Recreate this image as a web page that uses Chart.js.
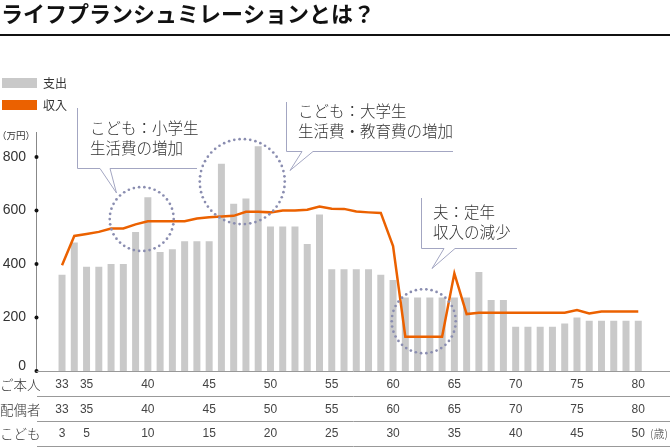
<!DOCTYPE html>
<html><head><meta charset="utf-8">
<script src="https://cdn.jsdelivr.net/npm/chart.js@4/dist/chart.umd.min.js"></script>
<style>html,body{margin:0;padding:0;background:#fff}#wrap{width:670px;height:447px;position:relative}</style>
</head><body><div id="wrap"><canvas id="c" width="670" height="447"></canvas></div>
<script>
const ages = [33,34,35,36,37,38,39,40,41,42,43,44,45,46,47,48,49,50,51,52,53,54,55,56,57,58,59,60,61,62,63,64,65,66,67,68,69,70,71,72,73,74,75,76,77,78,79,80];
const spending = [360,480,390,390,400,400,520,650,445,455,485,485,485,775,625,645,840,540,540,540,475,585,380,380,380,380,360,340,275,275,275,275,275,275,370,265,265,165,165,165,165,178,200,188,188,188,188,188];
const income = [395,505,512,520,533,533,548,560,560,560,560,570,575,578,580,595,595,593,600,600,603,615,607,606,596,593,591,467,128,128,128,128,365,213,218,218,218,218,218,218,218,218,228,215,222,222,222,222];
const yTicks = [0,200,400,600,800];
const selfTickAges = [33,35,40,45,50,55,60,65,70,75,80];
const selfTickLabels = ['33','35','40','45','50','55','60','65','70','75','80'];
const spouseTickLabels = ['33','35','40','45','50','55','60','65','70','75','80'];
const childTickLabels = ['3','5','10','15','20','25','30','35','40','45','50'];
const rowNames = ['ご本人','配偶者','こども'];
const legendNames = ['支出','収入'];
const titleText = 'ライフプランシュミレーションとは？';
const callouts = [
  {lines:['こども：小学生','生活費の増加']},
  {lines:['こども：大学生','生活費・教育費の増加']},
  {lines:['夫：定年','収入の減少']}
];
// circle anchors in data units: [age, value, radius px]
const circles = [[39.5,568,32],[47.7,708,42.5],[62.5,186,32]];

const JP = '"Noto Sans CJK JP","Noto Sans",sans-serif';
const NUM = '"Liberation Sans Narrow","Liberation Sans",Arial,sans-serif';
const GRAY = '#c9c9c9', ORANGE = '#eb6100', CALL = '#a3a6c2', DOT = '#8a8db0', TXT = '#333';

function xAt(chart, age){
  const s = chart.scales.x;
  const p0 = s.getPixelForValue(0), p1 = s.getPixelForValue(ages.length-1);
  return p0 + (age-ages[0])*(p1-p0)/(ages.length-1);
}

const deco = {
  id:'deco',
  afterDatasetsDraw(chart){
    const ctx = chart.ctx, y = chart.scales.y;
    ctx.save();
    ctx.fillStyle = DOT;
    circles.forEach(([a,v,r])=>{
      const cx = xAt(chart,a), cy = y.getPixelForValue(v);
      const n = Math.round(2*Math.PI*r/5.3);
      for(let i=0;i<n;i++){
        const t = i/n*2*Math.PI;
        ctx.beginPath(); ctx.arc(cx+r*Math.cos(t), cy+r*Math.sin(t), 1.35, 0, 2*Math.PI); ctx.fill();
      }
    });
    ctx.restore();
  },
  afterDraw(chart){
    const ctx = chart.ctx, ys = chart.scales.y;
    ctx.save();
    // title
    ctx.fillStyle = '#111';
    ctx.font = 'bold 22px '+JP;
    ctx.textBaseline = 'middle'; ctx.textAlign = 'left';
    ctx.fillText(titleText, 1, 14);
    ctx.fillRect(0, 34, 670, 2);
    // legend
    ctx.fillStyle = GRAY; ctx.fillRect(2, 78, 35, 10);
    ctx.fillStyle = ORANGE; ctx.fillRect(2, 100, 35, 10);
    ctx.fillStyle = TXT; ctx.font = '12px '+JP;
    ctx.fillText(legendNames[0], 43, 83.5);
    ctx.fillText(legendNames[1], 43, 105.5);
    // y axis
    const axX = 36.5, y0 = ys.getPixelForValue(0);
    ctx.strokeStyle = '#888'; ctx.lineWidth = 1;
    ctx.beginPath(); ctx.moveTo(axX, 132); ctx.lineTo(axX, Math.round(y0)+0.5); ctx.stroke();
    ctx.font = '9.5px '+JP; ctx.fillStyle = TXT; ctx.textAlign='left';
    ctx.fillText('（万円）', -3, 135);
    ctx.font = '14px '+NUM; ctx.textAlign = 'right';
    yTicks.forEach(v=>{
      const py = ys.getPixelForValue(v);
      ctx.fillStyle = '#111';
      ctx.beginPath(); ctx.arc(axX, py, 2, 0, 2*Math.PI); ctx.fill();
      ctx.fillStyle = TXT;
      ctx.fillText(String(v), 26, v===0 ? py-5 : py);
    });
    // x axis & table lines
    ctx.strokeStyle = '#999';
    [Math.round(y0)+0.5, 396.5, 421.5, 446.5].forEach((ly,i)=>{
      ctx.beginPath(); ctx.moveTo(i===0?axX:37, ly); ctx.lineTo(670, ly); ctx.stroke();
    });
    // row labels
    ctx.font = '300 13.5px '+JP; ctx.textAlign='left'; ctx.fillStyle = TXT;
    const rowY = [385, 409.5, 434];
    rowNames.forEach((n,i)=>ctx.fillText(n, 0, rowY[i]));
    ctx.font = '12px '+NUM; ctx.textAlign='center'; ctx.fillStyle = '#444';
    const rows = [selfTickLabels, spouseTickLabels, childTickLabels];
    rows.forEach((lab,ri)=>{
      lab.forEach((t,k)=>{
        ctx.fillText(t, xAt(chart, selfTickAges[k]), rowY[ri]);
      });
    });
    ctx.font = '300 11px '+JP; ctx.textAlign='left';
    ctx.fillText('(歳)', 650, rowY[2]);
    // callouts
    ctx.strokeStyle = CALL; ctx.lineWidth = 1;
    const boxes = [
      {x:77.5, top:108, bottom:168.5, right:197, b1:100, b2:110, tx:116.5, ty:193, textX:90, textY:[128,148]},
      {x:286.5, top:102, bottom:151.5, right:453, b1:302, b2:313, tx:290, ty:170.5, textX:298, textY:[111,131]},
      {x:421.5, top:198, bottom:248.5, right:517, b1:444, b2:455, tx:432, ty:268.5, textX:433, textY:[212,232]}
    ];
    boxes.forEach((b,i)=>{
      ctx.beginPath();
      ctx.moveTo(b.x, b.top); ctx.lineTo(b.x, b.bottom); ctx.lineTo(b.b1, b.bottom);
      ctx.lineTo(b.tx, b.ty); ctx.lineTo(b.b2, b.bottom); ctx.lineTo(b.right, b.bottom);
      ctx.stroke();
      ctx.fillStyle = TXT; ctx.font = '300 15.5px '+JP; ctx.textAlign='left';
      callouts[i].lines.forEach((l,k)=>ctx.fillText(l, b.textX, b.textY[k]));
    });
    ctx.restore();
  }
};

new Chart(document.getElementById('c'), {
  data: {
    labels: ages.map(String),
    datasets: [
      {type:'line', data: income, borderColor: ORANGE, borderWidth: 2.5, pointRadius: 0, tension: 0, order: 0, borderJoinStyle:'miter'},
      {type:'bar', data: spending, backgroundColor: GRAY, barPercentage: 0.57, categoryPercentage: 1, order: 1}
    ]
  },
  options: {
    responsive: false, animation: false,
    layout: {padding: {left: 55.9, right: 25.6, top: 130.25, bottom: 76}},
    plugins: {legend: {display: false}, tooltip: {enabled: false}},
    scales: {
      x: {type:'category', display: false, offset: true},
      y: {display: false, min: 0, max: 900}
    }
  },
  plugins: [deco]
});
</script></body></html>
